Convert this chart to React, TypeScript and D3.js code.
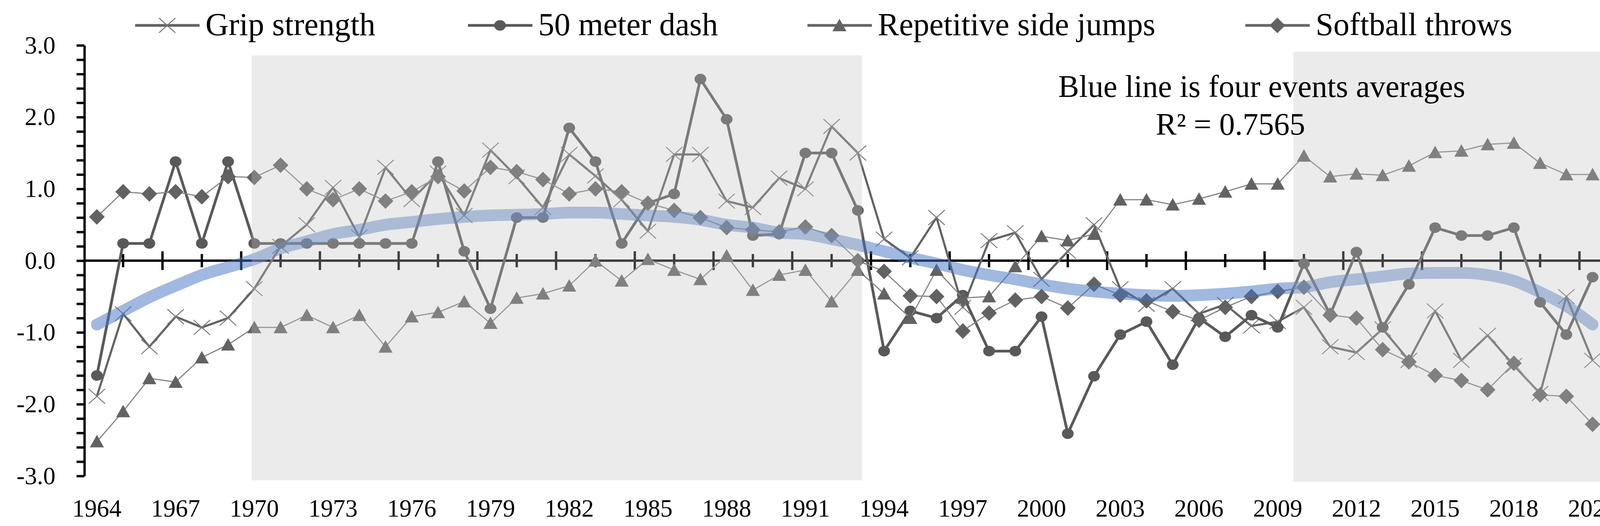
import * as d3 from "d3";
import { useEffect, useRef } from "react";

// years on the category axis
const years: number[] = d3.range(1964, 2022);
const yearLabels: number[] = d3.range(1964, 2022, 3);

const gripStrength = [
  -1.89, -0.74, -1.2, -0.78, -0.93, -0.8, -0.39, 0.2, 0.5, 1.02,
  0.33, 1.3, 0.85, 1.22, 0.63, 1.54, 1.17, 0.74, 1.48, 1.18,
  0.85, 0.41, 1.48, 1.48, 0.83, 0.74, 1.15, 1.0, 1.87, 1.5,
  0.3, 0.04, 0.6, -0.65, 0.28, 0.39, -0.26, 0.13, 0.5, -0.39,
  -0.61, -0.39, -0.74, -0.61, -0.91, -0.85, -0.65, -1.2, -1.28, -0.95,
  -1.39, -0.7, -1.39, -1.04, -1.46, -1.85, -0.5, -1.39,
];

const dash50m = [
  -1.6, 0.24, 0.24, 1.38, 0.24, 1.38, 0.24, 0.24, 0.24, 0.24,
  0.24, 0.24, 0.24, 1.38, 0.13, -0.67, 0.6, 0.6, 1.85, 1.38,
  0.24, 0.8, 0.93, 2.53, 1.97, 0.35, 0.37, 1.5, 1.5, 0.7,
  -1.26, -0.7, -0.8, -0.48, -1.26, -1.26, -0.78, -2.41, -1.61, -1.03,
  -0.85, -1.45, -0.8, -1.06, -0.76, -0.93, -0.04, -0.75, 0.12, -0.93,
  -0.33, 0.46, 0.35, 0.35, 0.46, -0.58, -1.03, -0.23,
];

const sideJumps = [
  -2.52, -2.1, -1.64, -1.69, -1.35, -1.17, -0.93, -0.93, -0.76, -0.93,
  -0.76, -1.2, -0.78, -0.72, -0.57, -0.87, -0.52, -0.46, -0.35, 0.0,
  -0.28, 0.02, -0.13, -0.26, 0.07, -0.41, -0.2, -0.13, -0.57, -0.13,
  -0.46, -0.8, -0.13, -0.52, -0.5, -0.08, 0.34, 0.28, 0.37, 0.85,
  0.85, 0.78, 0.86, 0.96, 1.07, 1.07, 1.46, 1.17, 1.21, 1.19,
  1.32, 1.51, 1.53, 1.62, 1.64, 1.36, 1.2, 1.2,
];

const softball = [
  0.61, 0.96, 0.93, 0.96, 0.89, 1.17, 1.16, 1.33, 1.0, 0.85,
  1.0, 0.83, 0.96, 1.17, 0.97, 1.3, 1.24, 1.13, 0.93, 1.0,
  0.96, 0.8, 0.7, 0.6, 0.46, 0.43, 0.4, 0.47, 0.35, 0.0,
  -0.15, -0.49, -0.5, -0.98, -0.73, -0.55, -0.5, -0.66, -0.33, -0.48,
  -0.56, -0.71, -0.83, -0.65, -0.5, -0.43, -0.37, -0.76, -0.8, -1.24,
  -1.41, -1.6, -1.67, -1.8, -1.43, -1.87, -1.89, -2.28,
];

// polynomial trendline of the four-event average
const averageTrend = [
  -0.89, -0.7, -0.51, -0.35, -0.2, -0.09, 0.02, 0.17, 0.27, 0.37,
  0.43, 0.5, 0.54, 0.58, 0.61, 0.63, 0.64, 0.65, 0.67, 0.67,
  0.65, 0.63, 0.61, 0.57, 0.5, 0.46, 0.39, 0.37, 0.3, 0.22,
  0.13, 0.04, -0.04, -0.13, -0.2, -0.26, -0.33, -0.39, -0.43, -0.46,
  -0.48, -0.49, -0.48, -0.46, -0.43, -0.39, -0.37, -0.3, -0.26, -0.22,
  -0.18, -0.17, -0.17, -0.2, -0.28, -0.44, -0.63, -0.89,
];

// shaded periods [from, to] in years and [top, bottom] in values
const periods = [
  { from: 1969.9, to: 1993.16, top: 2.86, bottom: -3.06 },
  { from: 2009.6, to: 2021.5, top: 2.91, bottom: -3.08 },
];

const seriesNames = [
  "Grip strength",
  "50 meter dash",
  "Repetitive side jumps",
  "Softball throws",
];

const yTicks = d3.range(-15, 16).map((k) => k / 5);
const yLabels = [-3, -2, -1, 0, 1, 2, 3];

const FONT = "'Liberation Serif', 'Times New Roman', serif";

type Marker = "x" | "circle" | "triangle" | "diamond";

const drawMarker = (
  g: d3.Selection<SVGGElement, unknown, null, undefined>,
  type: Marker,
  cx: number,
  cy: number,
  color: string
) => {
  if (type === "x") {
    g.append("path")
      .attr("d", `M${cx - 21},${cy - 19}L${cx + 21},${cy + 19}M${cx - 21},${cy + 19}L${cx + 21},${cy - 19}`)
      .attr("stroke", color)
      .attr("stroke-width", 2.5)
      .attr("fill", "none");
  } else if (type === "circle") {
    g.append("ellipse")
      .attr("cx", cx)
      .attr("cy", cy)
      .attr("rx", 15)
      .attr("ry", 13.5)
      .attr("fill", color);
  } else if (type === "triangle") {
    g.append("path")
      .attr("d", `M${cx},${cy - 17}L${cx + 18},${cy + 15}L${cx - 18},${cy + 15}Z`)
      .attr("fill", color);
  } else {
    g.append("path")
      .attr("d", `M${cx},${cy - 20}L${cx + 20},${cy}L${cx},${cy + 20}L${cx - 20},${cy}Z`)
      .attr("fill", color);
  }
};

const App = () => {
  const ref = useRef<SVGSVGElement | null>(null);

  useEffect(() => {
    if (!ref.current) return;
    const svg = d3.select(ref.current);
    svg.selectAll("*").remove();

    const x = d3.scaleLinear().domain([1964, 2021]).range([248, 4077]);
    const y = d3.scaleLinear().domain([-3, 3]).range([1218, 116]);

    const series = [
      { values: gripStrength, stroke: "#636363", width: 5.5, marker: "x" as Marker, mColor: "#7a7a7a" },
      { values: dash50m, stroke: "#595959", width: 7, marker: "circle" as Marker, mColor: "#595959" },
      { values: sideJumps, stroke: "#858585", width: 3, marker: "triangle" as Marker, mColor: "#626262" },
      { values: softball, stroke: "#858585", width: 3, marker: "diamond" as Marker, mColor: "#626262" },
    ];

    // x axis line + ticks every 1.5 years
    const xAxis = svg.append("g");
    xAxis
      .append("line")
      .attr("x1", x(1963.5))
      .attr("x2", x(2021.5))
      .attr("y1", y(0))
      .attr("y2", y(0))
      .attr("stroke", "#000")
      .attr("stroke-width", 6);
    d3.range(1965, 2021, 1.5).forEach((t) => {
      const tall = (t - 1965) % 3 !== 0;
      const h = tall ? 24 : 17;
      xAxis
        .append("line")
        .attr("x1", x(t))
        .attr("x2", x(t))
        .attr("y1", y(0) - h)
        .attr("y2", y(0) + h)
        .attr("stroke", "#000")
        .attr("stroke-width", 6);
    });

    const line = d3
      .line<number>()
      .x((_, i) => x(years[i]))
      .y((d) => y(d));

    series.forEach((s) => {
      const g = svg.append("g");
      g.append("path")
        .attr("d", line(s.values) as string)
        .attr("fill", "none")
        .attr("stroke", s.stroke)
        .attr("stroke-width", s.width)
        .attr("stroke-linejoin", "round");
      s.values.forEach((v, i) => drawMarker(g, s.marker, x(years[i]), y(v), s.mColor));
    });

    // trendline
    const trendLine = d3
      .line<number>()
      .x((_, i) => x(years[i]))
      .y((d) => y(d))
      .curve(d3.curveMonotoneX);
    svg
      .append("path")
      .attr("d", trendLine(averageTrend) as string)
      .attr("fill", "none")
      .attr("stroke", "#4472c4")
      .attr("stroke-opacity", 0.5)
      .attr("stroke-width", 30)
      .attr("stroke-linecap", "round");

    // y axis
    const yAxis = svg
      .append("g")
      .attr("transform", "translate(216,0)")
      .call(
        d3
          .axisLeft(y)
          .tickValues(yTicks)
          .tickSize(20)
          .tickSizeOuter(0)
          .tickPadding(54)
          .tickFormat((d) =>
            yLabels.some((l) => Math.abs(l - (d as number)) < 1e-6)
              ? (d as number).toFixed(1)
              : ""
          )
      );
    yAxis.select(".domain").attr("stroke", "#000").attr("stroke-width", 6);
    yAxis.selectAll(".tick line").attr("stroke", "#000").attr("stroke-width", 6);
    yAxis
      .selectAll(".tick text")
      .attr("fill", "#000")
      .style("font-family", FONT)
      .style("font-size", "63px");

    // shaded overlays on top of the data
    periods.forEach((p) => {
      svg
        .append("rect")
        .attr("x", x(p.from))
        .attr("width", x(p.to) - x(p.from))
        .attr("y", y(p.top))
        .attr("height", y(p.bottom) - y(p.top))
        .attr("fill", "rgb(192,192,192)")
        .attr("fill-opacity", 0.32);
    });

    // x labels
    svg
      .append("g")
      .selectAll("text")
      .data(yearLabels)
      .enter()
      .append("text")
      .attr("x", (d) => x(d))
      .attr("y", 1322)
      .attr("text-anchor", "middle")
      .style("font-family", FONT)
      .style("font-size", "63px")
      .attr("fill", "#000")
      .text((d) => String(d));

    // legend
    const legendPos = [346, 1198, 2067, 3188];
    seriesNames.forEach((name, i) => {
      const s = series[i];
      const g = svg.append("g");
      const lx = legendPos[i];
      g.append("line")
        .attr("x1", lx)
        .attr("x2", lx + 165)
        .attr("y1", 65)
        .attr("y2", 65)
        .attr("stroke", s.stroke === "#858585" ? "#666" : s.stroke)
        .attr("stroke-width", 7);
      drawMarker(g, s.marker, lx + 82, 65, s.mColor);
      g.append("text")
        .attr("x", lx + 180)
        .attr("y", 90)
        .style("font-family", FONT)
        .style("font-size", "82px")
        .attr("fill", "#000")
        .text(name);
    });

    // annotation
    svg
      .append("text")
      .attr("x", 3230)
      .attr("y", 248)
      .attr("text-anchor", "middle")
      .style("font-family", FONT)
      .style("font-size", "80px")
      .attr("fill", "#000")
      .text("Blue line is four events averages");
    svg
      .append("text")
      .attr("x", 3150)
      .attr("y", 345)
      .attr("text-anchor", "middle")
      .style("font-family", FONT)
      .style("font-size", "80px")
      .attr("fill", "#000")
      .text("R\u00b2 = 0.7565");
  }, []);

  return (
    <svg
      ref={ref}
      width={4176}
      height={1346}
      style={{ position: "absolute", left: 0, top: 0, background: "#fff" }}
    />
  );
};

export default App;
